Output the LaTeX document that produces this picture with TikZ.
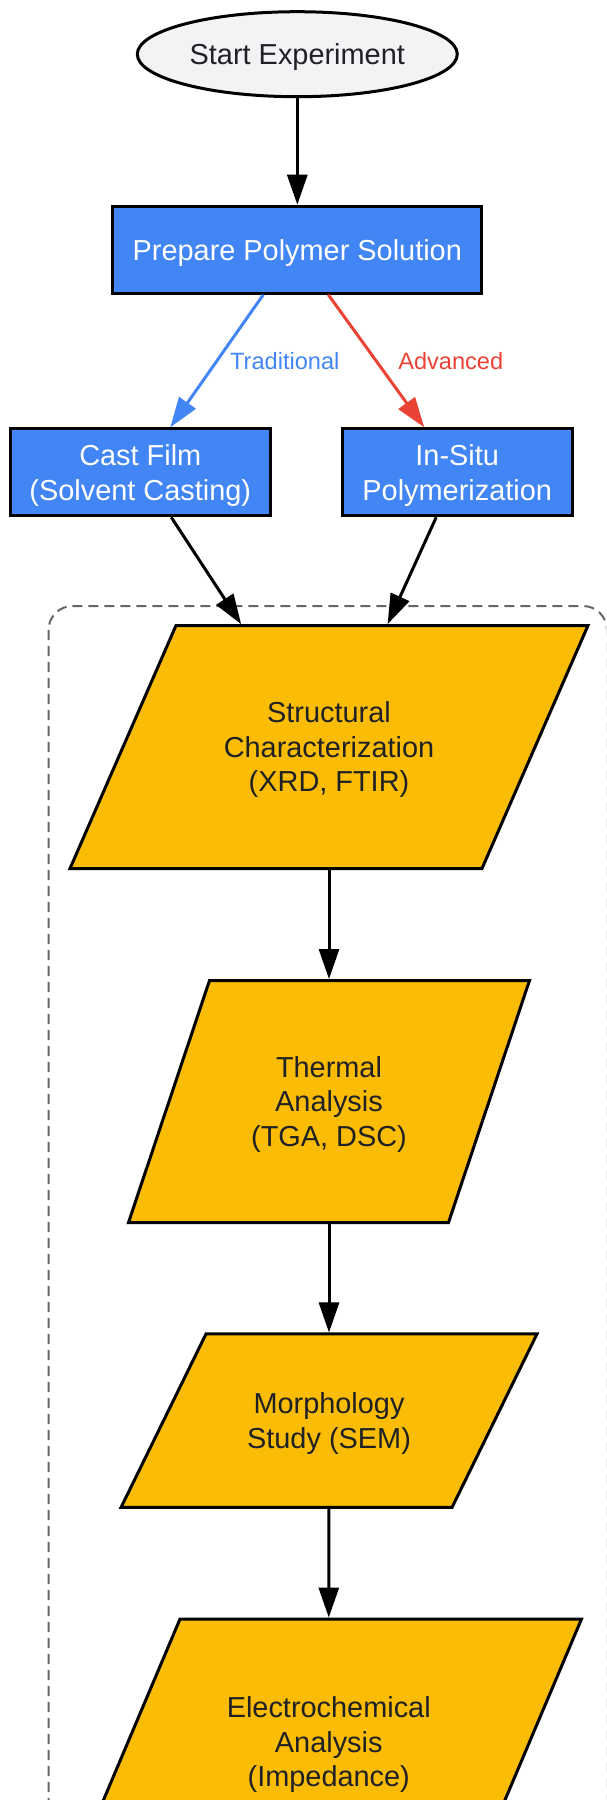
\documentclass[tikz,border=0pt]{standalone}
\usepackage{fontspec}
\setmainfont{Liberation Sans}
\usetikzlibrary{arrows.meta,shapes.geometric,calc}
\definecolor{gblue}{HTML}{4285F4}
\definecolor{gred}{HTML}{EA4335}
\definecolor{gyellow}{HTML}{FABC05}
\definecolor{startgray}{HTML}{F1F3F4}
\definecolor{textdark}{HTML}{202124}
\definecolor{clustergray}{HTML}{666666}
\pgfdeclarelayer{bg}
\pgfsetlayers{bg,main}
\begin{document}
\begin{tikzpicture}[x=1pt,y=-1pt,
  base/.style={font=\fontsize{28.9}{34.5}\selectfont, align=center, inner sep=0pt, text depth=-1.5pt},
  startnode/.style={base, ellipse, draw=black, line width=3pt, fill=startgray, text=textdark, minimum width=320pt, minimum height=85pt},
  procbox/.style={base, rectangle, draw=black, line width=3pt, fill=gblue, text=white, minimum height=87pt},
  paratext/.style={base, rectangle, text=textdark, outer sep=0pt},
  para/.style={draw=black, line width=3pt, fill=gyellow, line join=miter},
  flow/.style={line width=3pt, -{Triangle[length=30pt,width=20pt]}},
  flowp/.style={flow, shorten >=1.5pt},
  lab/.style={font=\fontsize{23.6}{28}\selectfont, inner sep=0pt},
  cluster/.style={draw=clustergray, line width=2pt, dash pattern=on 10pt off 6pt, rounded corners=24pt}
]
\useasboundingbox (0,0) rectangle (606,1800);
\clip (0,0) rectangle (606,1800);

% nodes
\node[startnode] (start) at (297.3,54.2) {Start Experiment};
\node[procbox, minimum width=369pt] (prep) at (297.3,249.7) {Prepare Polymer Solution};
\node[procbox, minimum width=260.5pt] (cast) at (140.3,472.3) {Cast Film\\(Solvent Casting)};
\node[procbox, minimum width=229.6pt] (insitu) at (457.2,472.3) {In-Situ\\Polymerization};

\node[paratext, minimum width=518pt, minimum height=243pt] (s1) at (329,747) {Structural\\Characterization\\(XRD, FTIR)};
\node[paratext, minimum width=401pt, minimum height=242pt] (s2) at (329,1101.5) {Thermal\\Analysis\\(TGA, DSC)};
\node[paratext, minimum width=416pt, minimum height=173.5pt] (s3) at (329,1420.7) {Morphology\\Study (SEM)};
\node[paratext, minimum width=505.5pt, minimum height=246pt] (s4) at (328.75,1742) {Electrochemical\\Analysis\\(Impedance)};

% background: cluster and parallelograms
\begin{pgfonlayer}{bg}
\clip (0,0) rectangle (606,1800);
\draw[cluster] (48.5,606) rectangle (607,1900);
\draw[para] (s1.south west) -- ($(s1.north west)+(106,0)$) -- (s1.north east) -- ($(s1.south east)+(-106,0)$) -- cycle;
\draw[para] (s2.south west) -- ($(s2.north west)+(81,0)$) -- (s2.north east) -- ($(s2.south east)+(-81,0)$) -- cycle;
\draw[para] (s3.south west) -- ($(s3.north west)+(85,0)$) -- (s3.north east) -- ($(s3.south east)+(-85,0)$) -- cycle;
\draw[para] (s4.south west) -- ($(s4.north west)+(104,0)$) -- (s4.north east) -- ($(s4.south east)+(-104,0)$) -- cycle;
\end{pgfonlayer}

% connectors
\draw[flow] (start) -- (prep);
\draw[flow, color=gblue] ($(prep.south)+(-34,0)$) -- node[lab, xshift=68pt] {Traditional} ($(cast.north)+(30,0)$);
\draw[flow, color=gred] ($(prep.south)+(31,0)$) -- node[lab, xshift=74.5pt] {Advanced} ($(insitu.north)+(-33,0)$);
\draw[flowp] ($(cast.south)+(31,0)$) -- ($(s1.north)+(-87,0)$);
\draw[flowp] ($(insitu.south)+(-21,0)$) -- ($(s1.north)+(58,0)$);
\draw[flowp] (s1.south) -- (s2.north);
\draw[flowp] (s2.south) -- (s3.north);
\draw[flowp] (s3.south) -- (s4.north);
\end{tikzpicture}
\end{document}
